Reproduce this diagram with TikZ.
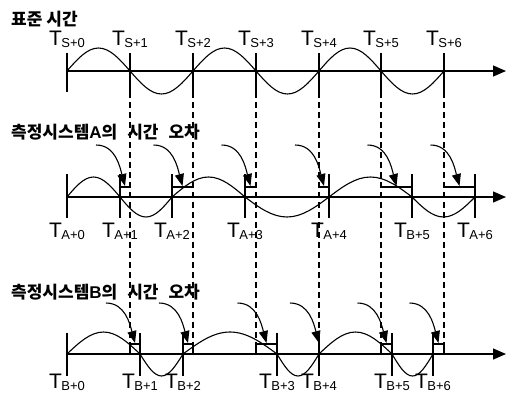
\documentclass[tikz,border=0pt]{standalone}
\usepackage{fontspec}
\setmainfont{Liberation Sans}
\newfontfamily\krfont{Noto Sans CJK KR}
\usepackage{tikz}
\usetikzlibrary{arrows.meta,positioning,calc}
\newcommand\tlab[1]{T\kern-0.5pt\raisebox{-2.5pt}{\fontsize{13}{13}\selectfont #1}}
\newcommand\krsp{\hspace{10pt}}

\begin{document}
\begin{tikzpicture}[x=1pt,y=-1pt,
 axis/.style={line width=1.3pt,-{Triangle[length=13pt,width=11pt]}},
 tick/.style={line width=1.1pt},
 wave/.style={line width=1.1pt},
 guide/.style={line width=1.1pt,dash pattern=on 6pt off 4pt},
 errbar/.style={line width=1.1pt},
 callout/.style={line width=1.1pt,-{Triangle[length=12pt,width=9pt]}},
 title/.style={font=\krfont\bfseries\fontsize{17}{20}\selectfont,anchor=west,inner sep=0pt},
 tlabel/.style={font=\fontsize{21}{22}\selectfont,inner sep=0pt,anchor=base}]
\useasboundingbox (0,0) rectangle (513,397);

% titles
\node[title] (stdtitle) at (11,19) {표준 시간};
\node[title] (atitle) at (11,132) {측정시스템{\rmfamily\bfseries A}의\krsp 시간\krsp 오차};
\node[title] (btitle) at (11,292) {측정시스템{\rmfamily\bfseries B}의\krsp 시간\krsp 오차};

% time axes
\coordinate (s0) at (67,71);  \coordinate (send) at (506,71);
\coordinate (a0) at (67,197); \coordinate (aend) at (506,197);
\coordinate (b0) at (67,354); \coordinate (bend) at (506,354);
\draw[axis] (s0) -- (send);
\draw[axis] (a0) -- (aend);
\draw[axis] (b0) -- (bend);

% standard time
\foreach \x [count=\k from 0] in {67,130,193,256,319,381,444} {
  \draw[tick] (\x,53) -- (\x,92);
  \node[tlabel] (ls\k) at (\x,45) {\tlab{S+\k}};
}
\foreach \p/\q/\d in {67/130/-1,130/193/1,193/256/-1,256/319/1,319/381/-1,381/444/1}
  \draw[wave] (\p,71) sin ({(\p+\q)/2},71+23*\d) cos (\q,71);
\foreach \x in {130,193,256,319,381,444}
  \draw[guide] (\x,92) -- (\x,344);

% system A
\foreach \x/\t [count=\k from 0] in {67/A+0,120/A+1,172/A+2,245/A+3,329/A+4,412/B+5,475/A+6} {
  \draw[tick] (\x,174) -- (\x,218);
  \node[tlabel] (la\k) at (\x,237) {\tlab{\t}};
}
\foreach \p/\q/\d in {67/120/-1,120/172/1,172/245/-1,245/329/1,329/412/-1,412/475/1}
  \draw[wave] (\p,197) sin ({(\p+\q)/2},197+20*\d) cos (\q,197);
\foreach \sx/\ax [count=\k] in {130/120,193/172,256/245,319/329,381/412,444/475} {
  \draw[errbar] (\sx,187) -- (\ax,187);
  \coordinate (ea\k) at ({(\sx+\ax)/2},186);
  \coordinate (ca\k) at ({(\sx+\ax)/2-29},145);
  \draw[callout] (ca\k) to[out=0,in=105] (ea\k);
}

% system B
\foreach \x/\t [count=\k from 0] in {67/B+0,140/B+1,183/B+2,277/B+3,319/B+4,392/B+5,433/B+6} {
  \draw[tick] (\x,333) -- (\x,376);
  \node[tlabel] (lb\k) at (\x,388) {\tlab{\t}};
}
\foreach \p/\q/\d in {67/140/-1,140/183/1,183/277/-1,277/319/1,319/392/-1,392/433/1}
  \draw[wave] (\p,354) sin ({(\p+\q)/2},354+22*\d) cos (\q,354);
\foreach \sx/\bx in {130/140,193/183,256/277,381/392,444/433}
  \draw[errbar] (\sx,344) rectangle (\bx,354);
\foreach \sx/\bx [count=\k] in {130/140,193/183,256/277,319/319,381/392,444/433} {
  \coordinate (eb\k) at ({(\sx+\bx)/2},343);
  \coordinate (cb\k) at ({(\sx+\bx)/2-29},303);
  \draw[callout] (cb\k) to[out=0,in=105] (eb\k);
}
\end{tikzpicture}
\end{document}
